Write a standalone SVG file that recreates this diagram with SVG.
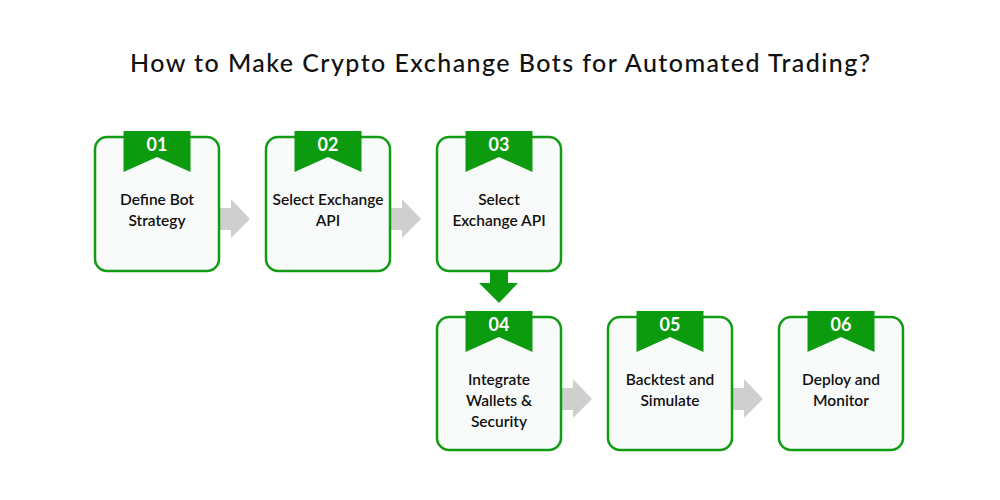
<svg xmlns="http://www.w3.org/2000/svg" width="1000" height="500" viewBox="0 0 1000 500">
<style>
.box{fill:#f8fbfa;stroke:#129c14;stroke-width:2.5}
.rib{fill:#0c9a0e}
.num{font-family:"Lato","Inter",sans-serif;font-weight:700;font-size:18px;fill:#fff;text-anchor:middle}
.lbl{font-family:"Lato","Inter",sans-serif;font-weight:600;font-size:15.5px;fill:#111;text-anchor:middle}
.title{font-family:"Lato","Inter",sans-serif;font-weight:500;font-size:25px;fill:#111;text-anchor:middle}
.ga{fill:#cfcfcf}
.gd{fill:#0c9a0e}
</style>
<defs>
<path id="ribbon" d="M-33.5,-6 H33.5 V35 L0,20 L-33.5,35 Z"/>
<path id="harrow" d="M0,-11 H12 V-20 L31,0 L12,19 V11 H0 Z"/>
</defs>
<rect width="1000" height="500" fill="#fff"/>
<text class="title" x="500" y="72" textLength="740" lengthAdjust="spacing">How to Make Crypto Exchange Bots for Automated Trading?</text>
<g id="connectors">
<use href="#harrow" class="ga" x="219" y="219"/>
<use href="#harrow" class="ga" x="390" y="219"/>
<path class="gd" d="M490,270 H508 V283 H518 L499,303 L479,283 H490 Z"/>
<use href="#harrow" class="ga" x="561" y="399"/>
<use href="#harrow" class="ga" x="732" y="399"/>
</g>
<g id="node1">
<rect class="box" x="95" y="137" width="124" height="134" rx="12"/>
<use href="#ribbon" class="rib" x="157" y="137"/>
<text class="num" x="157" y="151">01</text>
<text class="lbl" x="157" y="205">Define Bot</text>
<text class="lbl" x="157" y="226">Strategy</text>
</g>
<g id="node2">
<rect class="box" x="266" y="137" width="124" height="134" rx="12"/>
<use href="#ribbon" class="rib" x="328" y="137"/>
<text class="num" x="328" y="151">02</text>
<text class="lbl" x="328" y="205">Select Exchange</text>
<text class="lbl" x="328" y="226">API</text>
</g>
<g id="node3">
<rect class="box" x="437" y="137" width="124" height="134" rx="12"/>
<use href="#ribbon" class="rib" x="499" y="137"/>
<text class="num" x="499" y="151">03</text>
<text class="lbl" x="499" y="205">Select</text>
<text class="lbl" x="499" y="226">Exchange API</text>
</g>
<g id="node4">
<rect class="box" x="437" y="317" width="124" height="133" rx="12"/>
<use href="#ribbon" class="rib" x="499" y="317"/>
<text class="num" x="499" y="331">04</text>
<text class="lbl" x="499" y="385">Integrate</text>
<text class="lbl" x="499" y="406">Wallets &amp;</text>
<text class="lbl" x="499" y="427">Security</text>
</g>
<g id="node5">
<rect class="box" x="608" y="317" width="124" height="133" rx="12"/>
<use href="#ribbon" class="rib" x="670" y="317"/>
<text class="num" x="670" y="331">05</text>
<text class="lbl" x="670" y="385">Backtest and</text>
<text class="lbl" x="670" y="406">Simulate</text>
</g>
<g id="node6">
<rect class="box" x="779" y="317" width="124" height="133" rx="12"/>
<use href="#ribbon" class="rib" x="841" y="317"/>
<text class="num" x="841" y="331">06</text>
<text class="lbl" x="841" y="385">Deploy and</text>
<text class="lbl" x="841" y="406">Monitor</text>
</g>
</svg>
